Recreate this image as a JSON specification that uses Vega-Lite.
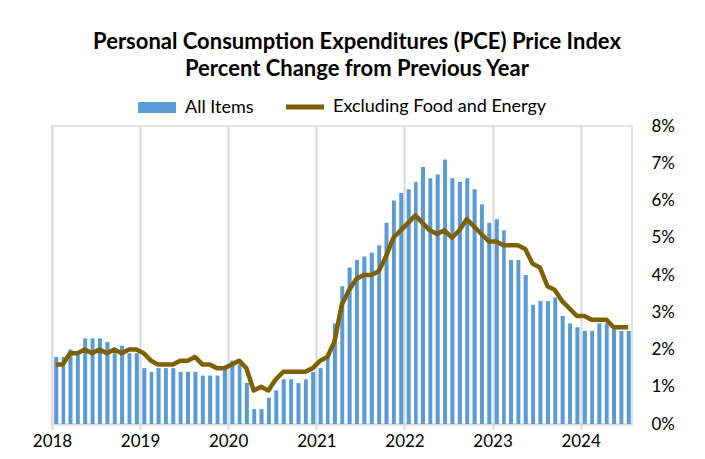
{
  "$schema": "https://vega.github.io/schema/vega-lite/v6.json",
  "autosize": {"type": "none"},
  "width": 580,
  "height": 298,
  "padding": {"left": 52, "top": 126, "right": 73, "bottom": 35},
  "background": "white",
  "title": {
    "text": ["Personal Consumption Expenditures (PCE) Price Index", "Percent Change from Previous Year"],
    "font": "Lato", "fontSize": 22, "fontWeight": "bold", "color": "#000000",
    "anchor": "middle", "dx": 15, "offset": 17, "lineHeight": 27
  },
  "data": {"values": [
    {"d":"2018-01-01","all":1.8,"core":1.6},{"d":"2018-02-01","all":1.8,"core":1.6},{"d":"2018-03-01","all":2.0,"core":1.9},{"d":"2018-04-01","all":1.9,"core":1.9},{"d":"2018-05-01","all":2.3,"core":2.0},{"d":"2018-06-01","all":2.3,"core":1.9},{"d":"2018-07-01","all":2.3,"core":2.0},{"d":"2018-08-01","all":2.2,"core":1.9},{"d":"2018-09-01","all":1.9,"core":2.0},{"d":"2018-10-01","all":2.1,"core":1.9},{"d":"2018-11-01","all":1.9,"core":2.0},{"d":"2018-12-01","all":1.9,"core":2.0},
    {"d":"2019-01-01","all":1.5,"core":1.9},{"d":"2019-02-01","all":1.4,"core":1.7},{"d":"2019-03-01","all":1.5,"core":1.6},{"d":"2019-04-01","all":1.5,"core":1.6},{"d":"2019-05-01","all":1.5,"core":1.6},{"d":"2019-06-01","all":1.4,"core":1.7},{"d":"2019-07-01","all":1.4,"core":1.7},{"d":"2019-08-01","all":1.4,"core":1.8},{"d":"2019-09-01","all":1.3,"core":1.6},{"d":"2019-10-01","all":1.3,"core":1.6},{"d":"2019-11-01","all":1.3,"core":1.5},{"d":"2019-12-01","all":1.5,"core":1.5},
    {"d":"2020-01-01","all":1.7,"core":1.6},{"d":"2020-02-01","all":1.6,"core":1.7},{"d":"2020-03-01","all":1.1,"core":1.5},{"d":"2020-04-01","all":0.4,"core":0.9},{"d":"2020-05-01","all":0.4,"core":1.0},{"d":"2020-06-01","all":0.7,"core":0.9},{"d":"2020-07-01","all":0.9,"core":1.2},{"d":"2020-08-01","all":1.2,"core":1.4},{"d":"2020-09-01","all":1.2,"core":1.4},{"d":"2020-10-01","all":1.1,"core":1.4},{"d":"2020-11-01","all":1.2,"core":1.4},{"d":"2020-12-01","all":1.4,"core":1.5},
    {"d":"2021-01-01","all":1.5,"core":1.7},{"d":"2021-02-01","all":1.8,"core":1.8},{"d":"2021-03-01","all":2.7,"core":2.2},{"d":"2021-04-01","all":3.7,"core":3.2},{"d":"2021-05-01","all":4.2,"core":3.6},{"d":"2021-06-01","all":4.4,"core":3.9},{"d":"2021-07-01","all":4.5,"core":4.0},{"d":"2021-08-01","all":4.6,"core":4.0},{"d":"2021-09-01","all":4.8,"core":4.1},{"d":"2021-10-01","all":5.4,"core":4.5},{"d":"2021-11-01","all":6.0,"core":5.0},{"d":"2021-12-01","all":6.2,"core":5.2},
    {"d":"2022-01-01","all":6.3,"core":5.4},{"d":"2022-02-01","all":6.5,"core":5.6},{"d":"2022-03-01","all":6.9,"core":5.4},{"d":"2022-04-01","all":6.6,"core":5.2},{"d":"2022-05-01","all":6.7,"core":5.1},{"d":"2022-06-01","all":7.1,"core":5.2},{"d":"2022-07-01","all":6.6,"core":5.0},{"d":"2022-08-01","all":6.5,"core":5.2},{"d":"2022-09-01","all":6.6,"core":5.5},{"d":"2022-10-01","all":6.3,"core":5.3},{"d":"2022-11-01","all":5.9,"core":5.1},{"d":"2022-12-01","all":5.4,"core":4.9},
    {"d":"2023-01-01","all":5.5,"core":4.9},{"d":"2023-02-01","all":5.2,"core":4.8},{"d":"2023-03-01","all":4.4,"core":4.8},{"d":"2023-04-01","all":4.4,"core":4.8},{"d":"2023-05-01","all":4.0,"core":4.7},{"d":"2023-06-01","all":3.2,"core":4.3},{"d":"2023-07-01","all":3.3,"core":4.2},{"d":"2023-08-01","all":3.3,"core":3.7},{"d":"2023-09-01","all":3.4,"core":3.6},{"d":"2023-10-01","all":2.9,"core":3.3},{"d":"2023-11-01","all":2.7,"core":3.1},{"d":"2023-12-01","all":2.6,"core":2.9},
    {"d":"2024-01-01","all":2.5,"core":2.9},{"d":"2024-02-01","all":2.5,"core":2.8},{"d":"2024-03-01","all":2.7,"core":2.8},{"d":"2024-04-01","all":2.7,"core":2.8},{"d":"2024-05-01","all":2.6,"core":2.6},{"d":"2024-06-01","all":2.5,"core":2.6},{"d":"2024-07-01","all":2.5,"core":2.6}
  ]},
  "encoding": {
    "x": {
      "field": "d", "type": "temporal", "timeUnit": "utcyearmonth",
      "scale": {"type": "utc", "domain": [{"year": 2018, "month": 1, "date": 1, "utc": true}, {"year": 2024, "month": 8, "date": 1, "utc": true}]},
      "axis": {
        "title": null,
        "values": [{"year": 2018, "utc": true}, {"year": 2019, "utc": true}, {"year": 2020, "utc": true}, {"year": 2021, "utc": true}, {"year": 2022, "utc": true}, {"year": 2023, "utc": true}, {"year": 2024, "utc": true}],
        "labelExpr": "utcFormat(datum.value, '%Y')",
        "grid": true, "gridColor": "#d9d9d9", "gridWidth": 2,
        "domainColor": "#d9d9d9", "domainWidth": 2,
        "tickColor": "#d9d9d9", "tickWidth": 2, "tickSize": 5,
        "labelFont": "Lato", "labelFontSize": 17, "labelColor": "#000000", "labelPadding": 4,
        "labelFlush": false, "labelOverlap": false
      }
    }
  },
  "layer": [
    {
      "mark": {"type": "bar", "width": {"band": 0.68}},
      "encoding": {
        "y": {
          "field": "all", "type": "quantitative",
          "scale": {"domain": [0, 8], "nice": false},
          "axis": {
            "orient": "right", "title": null, "values": [0, 1, 2, 3, 4, 5, 6, 7, 8],
            "labelExpr": "datum.value + '%'", "grid": false, "domain": false, "ticks": false,
            "labelOverlap": false, "labelFlush": false,
            "labelAlign": "left", "labelPadding": 19, "labelFont": "Lato", "labelFontSize": 17, "labelColor": "#000000"
          }
        },
        "color": {
          "datum": "All Items",
          "scale": {"domain": ["All Items", "Excluding Food and Energy"], "range": ["#5b9bd5", "#7f6000"]},
          "legend": {
            "title": null, "orient": "none", "direction": "horizontal",
            "legendX": 105, "legendY": -28,
            "labelFont": "Lato", "labelFontSize": 18, "labelColor": "#000000", "labelLimit": 400,
            "symbolSize": 1444, "columnPadding": 22, "labelOffset": 10,
            "encode": {
              "symbols": {
                "update": {
                  "shape": {"signal": "datum.value === 'All Items' ? 'M-1.47,-0.29H0.53V0.29H-1.47Z' : 'M-1.47,0H0.53'"},
                  "size": {"value": 1444},
                  "fill": {"signal": "datum.value === 'All Items' ? '#5b9bd5' : 'transparent'"},
                  "stroke": {"signal": "datum.value === 'All Items' ? 'transparent' : '#7f6000'"},
                  "strokeWidth": {"signal": "datum.value === 'All Items' ? 0 : 5"},
                  "opacity": {"value": 1}
                }
              }
            }
          }
        }
      }
    },
    {
      "mark": {"type": "line", "strokeWidth": 4.5, "strokeJoin": "round", "strokeCap": "butt"},
      "encoding": {
        "x": {"field": "d", "type": "temporal", "timeUnit": "utcyearmonth", "bandPosition": 0.5},
        "y": {
          "field": "core", "type": "quantitative",
          "axis": {
            "orient": "right", "title": null, "values": [0, 1, 2, 3, 4, 5, 6, 7, 8],
            "labelExpr": "datum.value + '%'", "grid": false, "domain": false, "ticks": false,
            "labelOverlap": false, "labelFlush": false,
            "labelAlign": "left", "labelPadding": 19, "labelFont": "Lato", "labelFontSize": 17, "labelColor": "#000000"
          }
        },
        "color": {"datum": "Excluding Food and Energy"}
      }
    }
  ],
  "config": {
    "view": {"stroke": "#d9d9d9", "strokeWidth": 1.5},
    "axisY": {"labelOverlap": false}
  }
}
